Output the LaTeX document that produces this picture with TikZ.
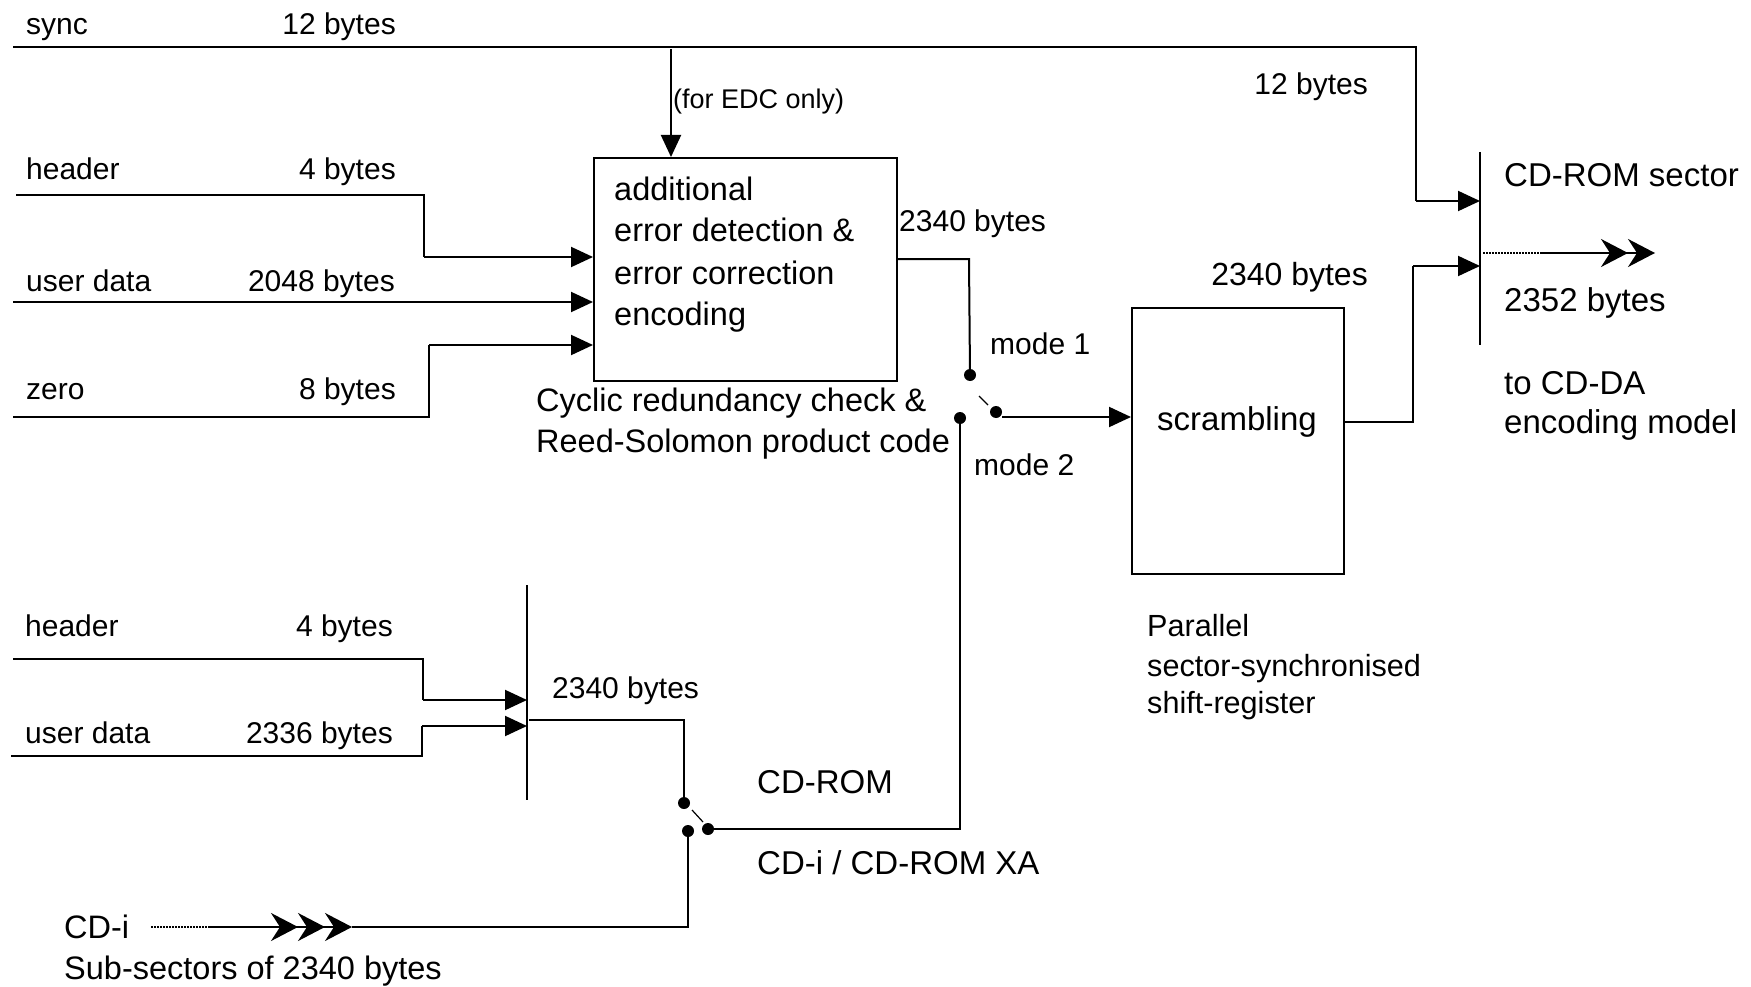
\documentclass[tikz,border=0pt]{standalone}
\usepackage{fontspec}
\setmainfont{Liberation Sans}
\usetikzlibrary{arrows.meta}
\tikzset{
  wire/.style={line width=2pt},
  arr/.style={wire, -{Triangle[length=22pt,width=20pt]}},
  lbl/.style={inner sep=0pt, font=\fontsize{30}{36}\selectfont, anchor=base west},
  lble/.style={lbl, anchor=base east},
  big/.style={lbl, font=\fontsize{32.5}{38}\selectfont},
  bigger/.style={lbl, font=\fontsize{33}{38}\selectfont},
  small/.style={inner sep=0pt, font=\fontsize{27}{30}\selectfont, anchor=base west},
  dotn/.style={circle, fill, inner sep=0pt, minimum size=12pt},
  boxs/.style={draw, line width=2pt, inner sep=0pt, anchor=north west},
  dots/.style={line width=1.2pt, dash pattern=on 1.5pt off 1.5pt},
  twoheads/.style={-{Stealth[length=27pt,width=28pt,inset=9pt] Stealth[length=27pt,width=28pt,inset=9pt]}},
  threeheads/.style={-{Stealth[length=27pt,width=28pt,inset=9pt] Stealth[length=27pt,width=28pt,inset=9pt] Stealth[length=27pt,width=28pt,inset=9pt]}}
}
\begin{document}
\begin{tikzpicture}[x=1pt,y=-1pt]
\useasboundingbox (0,0) rectangle (1751,987);

% ---------- top inputs ----------
\node[lbl] (tsync) at (26,35) {sync};
\node[lble] (tsyncb) at (396,35) {12 bytes};
\node[lbl] (thead) at (26,180) {header};
\node[lble] (theadb) at (396,180) {4 bytes};
\node[lbl] (tuser) at (26,291) {user data};
\node[lble] (tuserb) at (395,291) {2048 bytes};
\node[lbl] (tzero) at (26,399) {zero};
\node[lble] (tzerob) at (396,399) {8 bytes};

% encoder box
\node[boxs, minimum width=303pt, minimum height=223pt] (enc) at (593,157) {};
\node[big] (enc1) at (614,201) {additional};
\node[big] (enc2) at (614,242) {error detection \&};
\node[big] (enc3) at (614,284) {error correction};
\node[big] (enc4) at (614,325) {encoding};
\node[big] (crc1) at (536,411) {Cyclic redundancy check \&};
\node[big] (crc2) at (536,452) {Reed-Solomon product code};
\node[small] (edc) at (673,109) {(for EDC only)};

% coordinates for wires
\coordinate (s0) at (13,47);
\coordinate (s1) at (1416,47);
\coordinate (h0) at (16,195);
\coordinate (h1) at (424,195);
\coordinate (z0) at (13,417);
\coordinate (z1) at (429,417);
\coordinate (u0) at (13,302);

% sync line
\draw[wire] (s0) -- (s1) -- (1416,201);
\draw[arr] (671,49) -- (enc.north -| 671,0);
\draw[wire] (h0) -- (h1) -- (424,257);
\draw[arr] (424,257) -- (enc.west |- 0,257);
\draw[arr] (u0) -- (enc.west |- 0,302);
\draw[wire] (z0) -- (z1) -- (429,345);
\draw[arr] (429,345) -- (enc.west |- 0,345);

% encoder output and mode switch
\node[lbl] (t2340a) at (899,232) {2340 bytes};
\node[lbl] (tmode1) at (990,354) {mode 1};
\node[lbl] (tmode2) at (974,475) {mode 2};
\node[dotn] (m1) at (970,375) {};
\node[dotn] (mp) at (996,412) {};
\node[dotn] (m2) at (960,418) {};
\draw[wire] (enc.east |- 0,259) -- (969,259) -- (m1.center);
\draw[line width=1.2pt] (979,396) -- (988,405);

% scrambling
\node[boxs, minimum width=212pt, minimum height=266pt] (scr) at (1131,307) {};
\node[inner sep=0pt, font=\fontsize{33}{38}\selectfont] (tscr) at (1237,422) {scrambling};
\node[lble, font=\fontsize{32}{38}\selectfont] (t2340b) at (1368,285) {2340 bytes};
\draw[arr] (mp.east |- 0,417) -- (scr.west |- 0,417);
\node[lbl, font=\fontsize{30.6}{36}\selectfont] (par1) at (1147,636) {Parallel};
\node[lbl, font=\fontsize{30.6}{36}\selectfont] (par2) at (1147,676) {sector-synchronised};
\node[lbl, font=\fontsize{30.6}{36}\selectfont] (par3) at (1147,713) {shift-register};

% output bar
\coordinate (barT) at (1480,152);
\coordinate (barB) at (1480,345);
\draw[line width=1.5pt] (barT) -- (barB);
\draw[arr] (1416,201) -- (1480,201);
\draw[wire] (scr.east |- 0,422) -- (1413,422) -- (1413,266);
\draw[arr] (1413,266) -- (1480,266);
\node[lble] (t12r) at (1368,95) {12 bytes};
\node[bigger] (tcdrom) at (1504,187) {CD-ROM sector};
\node[bigger] (t2352) at (1504,311) {2352 bytes};
\node[bigger] (tcdda1) at (1504,394) {to CD-DA};
\node[bigger] (tcdda2) at (1504,433) {encoding model};
\coordinate (o0) at (1483,253);
\coordinate (o1) at (1540,253);
\coordinate (o2) at (1655,253);
\draw[dots] (o0) -- (o1);
\draw[wire, twoheads] (o1) -- (o2);

% ---------- bottom inputs ----------
\node[lbl] (bhead) at (25,636) {header};
\node[lble] (bheadb) at (393,636) {4 bytes};
\node[lbl] (buser) at (25,743) {user data};
\node[lble] (buserb) at (393,743) {2336 bytes};
\coordinate (bbarT) at (527,585);
\coordinate (bbarB) at (527,800);
\draw[line width=1.5pt] (bbarT) -- (bbarB);
\draw[wire] (13,659) -- (423,659) -- (423,700);
\draw[arr] (423,700) -- (527,700);
\draw[wire] (11,756) -- (422,756) -- (422,726);
\draw[arr] (422,726) -- (527,726);
\node[lbl] (t2340c) at (552,698) {2340 bytes};

% second switch
\node[dotn] (c1) at (684,803) {};
\node[dotn] (cp) at (708,829) {};
\node[dotn] (c2) at (688,831) {};
\draw[wire] (529,720) -- (684,720) -- (c1.center);
\draw[line width=1.2pt] (692,810) -- (703,822);
\draw[wire] (cp.center) -- (960,829) -- (m2.center);
\node[bigger] (tcdr) at (757,793) {CD-ROM};
\node[bigger] (tcdixa) at (757,874) {CD-i / CD-ROM XA};

% CD-i input
\node[big] (tcdi) at (64,938) {CD-i};
\node[big] (tsub) at (64,979) {Sub-sectors of 2340 bytes};
\coordinate (i0) at (151,927);
\coordinate (i1) at (208,927);
\coordinate (i2) at (352,927);
\draw[dots] (i0) -- (i1);
\draw[wire, threeheads] (i1) -- (i2);
\draw[wire] (i2) -- (688,927) -- (c2.center);
\end{tikzpicture}
\end{document}
